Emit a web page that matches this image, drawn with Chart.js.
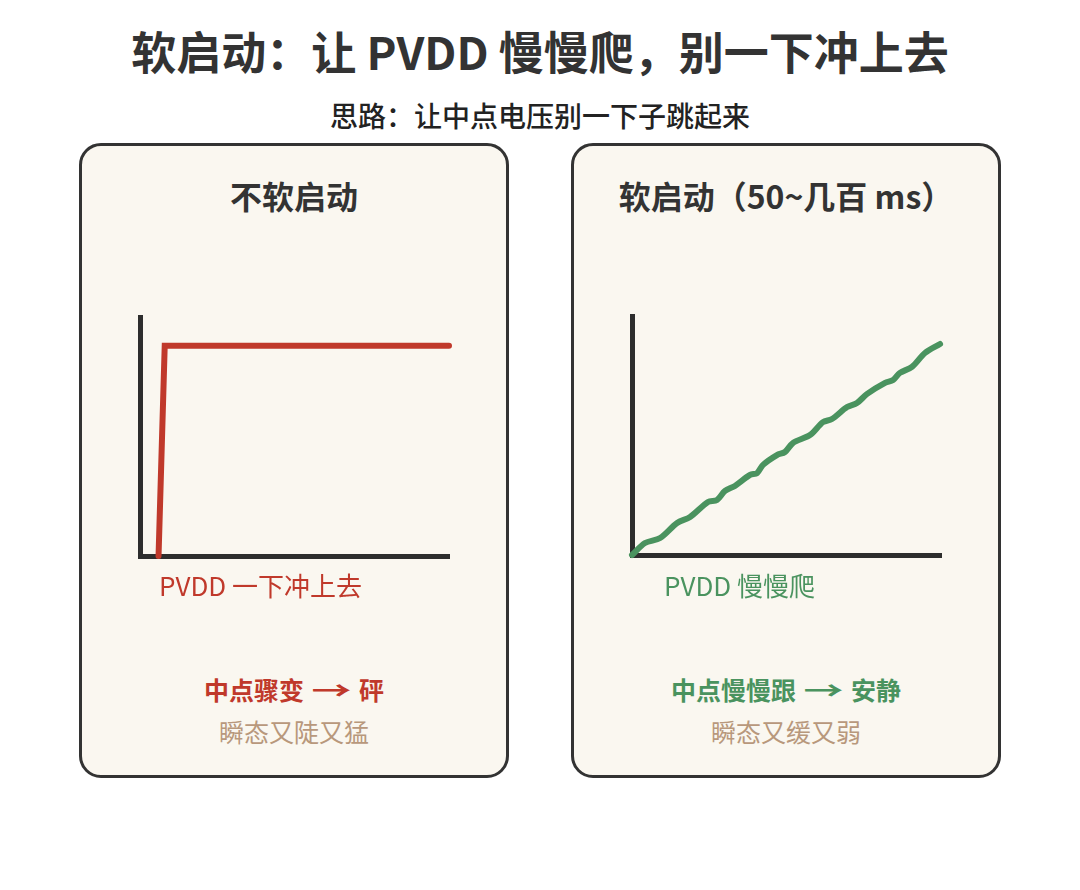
<!DOCTYPE html>
<html>
<head>
<meta charset="utf-8">
<script src="https://cdn.jsdelivr.net/npm/chart.js@4"></script>
<style>
  body { margin: 0; background: #fff; font-family: "Noto Sans CJK SC", "Noto Sans", sans-serif; }
  #page { position: relative; width: 1080px; height: 890px; }
  .txt { position: absolute; white-space: nowrap; }
  .centre { text-align: center; }
  .panneau { position: absolute; box-sizing: border-box; top: 143px; width: 430px; height: 635px;
             border: 3px solid #333; border-radius: 22px; background: #faf7f0; }
  .graphe { position: absolute; top: 300px; }
  .fleche { display: inline-block; margin: 0 15px; transform: scaleX(1.6); font-weight: 700; }
</style>
</head>
<body>
<div id="page">
  <div class="txt centre" style="left:0;width:1080px;top:29px;font-size:45px;line-height:44px;font-weight:700;color:#333;">软启动：让 PVDD 慢慢爬，别一下冲上去</div>
  <div class="txt centre" style="left:0;width:1080px;top:101px;font-size:28px;line-height:28px;font-weight:500;color:#222;">思路：让中点电压别一下子跳起来</div>

  <div class="panneau" style="left:79px;"></div>
  <div class="panneau" style="left:571px;"></div>

  <div class="txt centre" style="left:79px;width:430px;top:178px;font-size:32px;line-height:34px;font-weight:700;color:#333;">不软启动</div>
  <div class="txt centre" style="left:571px;width:430px;top:178px;font-size:32px;line-height:34px;font-weight:700;color:#333;">软启动（50~几百 ms）</div>

  <canvas id="gauche" class="graphe" style="left:120px;" width="350" height="280"></canvas>
  <canvas id="droite" class="graphe" style="left:612px;" width="350" height="280"></canvas>

  <div class="txt" style="left:159px;top:572px;font-size:26px;line-height:26px;color:#c0392b;">PVDD 一下冲上去</div>
  <div class="txt" style="left:664px;top:572px;font-size:26px;line-height:26px;color:#4a935f;">PVDD 慢慢爬</div>

  <div class="txt centre" style="left:79px;width:430px;top:675px;font-size:25px;line-height:28px;font-weight:700;color:#c0392b;">中点骤变<span class="fleche">→</span>砰</div>
  <div class="txt centre" style="left:79px;width:430px;top:717px;font-size:25px;line-height:28px;color:#b8987c;">瞬态又陡又猛</div>
  <div class="txt centre" style="left:571px;width:430px;top:675px;font-size:25px;line-height:28px;font-weight:700;color:#4a935f;">中点慢慢跟<span class="fleche">→</span>安静</div>
  <div class="txt centre" style="left:571px;width:430px;top:717px;font-size:25px;line-height:28px;color:#b8987c;">瞬态又缓又弱</div>
</div>

<script>
// sans soft start : saut brutal
const brusqueX = [6, 8, 100];
const brusqueY = [0, 88, 88];

// avec soft start : montee lente, un peu ondulee
const douxX = [0, 4.2, 9.1, 14.6, 18.8, 24.6, 27.5, 30.1, 33.3, 38.2, 40.5, 42.4, 46.9, 49.5,
               52.1, 57.6, 61.8, 64.7, 69.6, 72.8, 76.1, 81.9, 84.5, 86.7, 90.6, 94.8, 99.7];
const douxY = [0, 5.0, 7.1, 13.4, 15.9, 22.2, 23.0, 26.8, 28.9, 33.5, 34.3, 37.7, 41.8, 43.1,
               46.9, 50.2, 55.6, 56.9, 61.9, 63.6, 67.4, 72.0, 73.2, 76.2, 78.7, 84.5, 88.3];

const couleurAxe = "#2d2d2d";

function points(xs, ys) {
    let p = [];
    for (let n = 0; n < xs.length; n++) {
        p.push({x: xs[n], y: ys[n]});
    }
    return p;
}

function axe(pos) {
    return {
        type: "linear",
        position: pos,
        min: 0,
        max: 100,
        grid: { display: false, drawTicks: false },
        ticks: { display: false },
        border: { display: true, color: couleurAxe, width: 5 }
    };
}

function config(donnees, couleur, tension, padding) {
    return {
        type: "line",
        data: {
            datasets: [{
                data: donnees,
                borderColor: couleur,
                borderWidth: 6,
                borderCapStyle: "round",
                borderJoinStyle: tension > 0 ? "round" : "miter",
                tension: tension,
                pointRadius: 0,
                clip: false
            }]
        },
        options: {
            responsive: false,
            animation: false,
            layout: { padding: padding },
            plugins: { legend: { display: false }, tooltip: { enabled: false } },
            scales: { x: axe("bottom"), y: axe("left") }
        }
    };
}

new Chart(document.getElementById("gauche"),
    config(points(brusqueX, brusqueY), "#c0392b", 0, {left: 20, right: 21, top: 17, bottom: 24}));
new Chart(document.getElementById("droite"),
    config(points(douxX, douxY), "#4a935f", 0.3, {left: 20, right: 21, top: 16, bottom: 25}));
</script>
</body>
</html>
